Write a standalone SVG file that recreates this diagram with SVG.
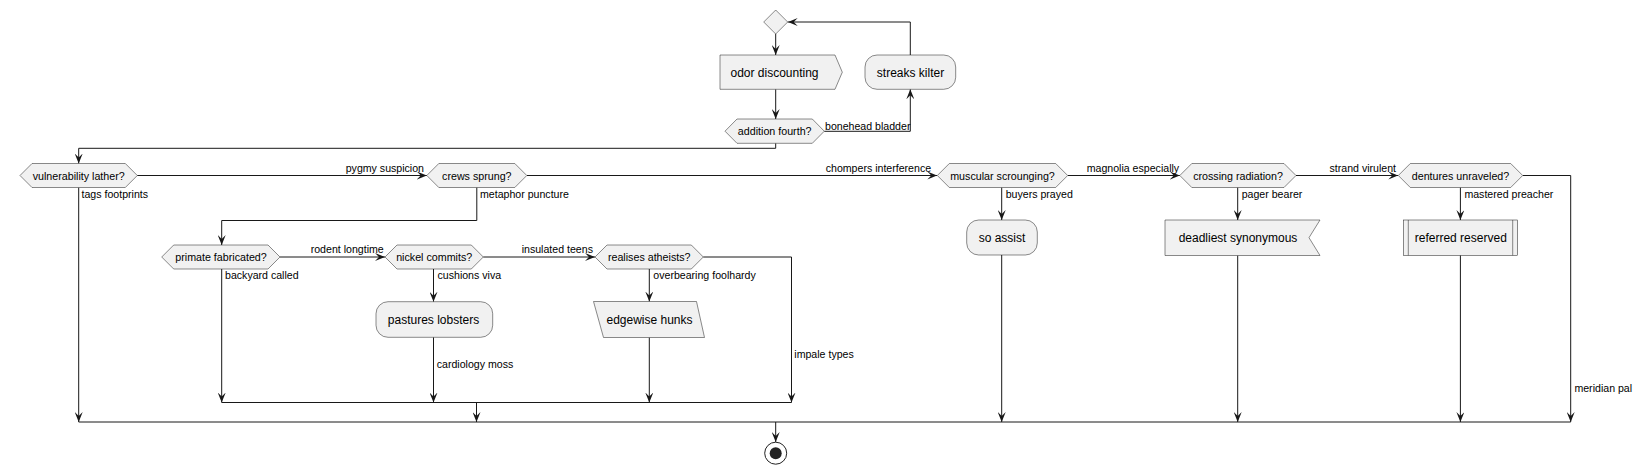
<svg xmlns="http://www.w3.org/2000/svg" width="1642" height="474" viewBox="0 0 1642 474">
<defs>
<style>
.n{fill:#F1F1F1;stroke:#181818;stroke-width:0.5}
.t{font-family:"Liberation Sans",Arial,sans-serif;font-size:12px;fill:#000;text-anchor:middle}
.d{font-family:"Liberation Sans",Arial,sans-serif;font-size:10.7px;fill:#000;text-anchor:middle}
.l{font-family:"Liberation Sans",Arial,sans-serif;font-size:10.6px;fill:#000}
.e{fill:none;stroke:#181818;stroke-width:1}
</style>
<marker id="a" viewBox="0 0 10 8" refX="10" refY="4" markerWidth="10" markerHeight="8" markerUnits="userSpaceOnUse" orient="auto">
<path d="M0,0 L10,4 L0,8 L4,4 Z" fill="#181818"/>
</marker>
</defs>
<rect width="1642" height="474" fill="#FFFFFF"/>

<g id="connectors">
<path class="e" d="M775.7,34 V55" marker-end="url(#a)"/>
<path class="e" d="M775.7,89.3 V119" marker-end="url(#a)"/>
<path class="e" d="M824.3,131.3 H910.3 V89.3" marker-end="url(#a)"/>
<path class="e" d="M910.3,55 V22 H787.7" marker-end="url(#a)"/>
<path class="e" d="M775.7,143.3 V148.3 H78.7 V163.5" marker-end="url(#a)"/>
<path class="e" d="M137.3,175.5 H426.8" marker-end="url(#a)"/>
<path class="e" d="M526.8,175.5 H937.3" marker-end="url(#a)"/>
<path class="e" d="M1067.7,175.5 H1179.8" marker-end="url(#a)"/>
<path class="e" d="M1296,175.5 H1398.3" marker-end="url(#a)"/>
<path class="e" d="M1522.7,175.5 H1570.7 V422" marker-end="url(#a)"/>
<path class="e" d="M78.7,187.5 V422" marker-end="url(#a)"/>
<path class="e" d="M476.8,187.5 V220.5 H221.7 V245" marker-end="url(#a)"/>
<path class="e" d="M1001.7,187.5 V220" marker-end="url(#a)"/>
<path class="e" d="M1001.7,255 V422" marker-end="url(#a)"/>
<path class="e" d="M1237.7,187.5 V220" marker-end="url(#a)"/>
<path class="e" d="M1237.7,255.5 V422" marker-end="url(#a)"/>
<path class="e" d="M1460.4,187.5 V220" marker-end="url(#a)"/>
<path class="e" d="M1460.4,255.3 V422" marker-end="url(#a)"/>
<path class="e" d="M280,257 H385" marker-end="url(#a)"/>
<path class="e" d="M483.3,257 H595" marker-end="url(#a)"/>
<path class="e" d="M703.3,257 H791.5 V402.5" marker-end="url(#a)"/>
<path class="e" d="M221.7,269 V402.5" marker-end="url(#a)"/>
<path class="e" d="M433.5,269 V301.7" marker-end="url(#a)"/>
<path class="e" d="M433.5,337.3 V402.5" marker-end="url(#a)"/>
<path class="e" d="M649.3,269 V301.5" marker-end="url(#a)"/>
<path class="e" d="M649.3,337.5 V402.5" marker-end="url(#a)"/>
<path class="e" d="M221.7,402.5 H791.5"/>
<path class="e" d="M476.5,402.5 V422" marker-end="url(#a)"/>
<path class="e" d="M78.7,422 H1570.7"/>
<path class="e" d="M775.7,422 V442" marker-end="url(#a)"/>
<text class="l" x="825" y="129.5">bonehead bladder</text>
<text class="l" x="345.7" y="171.5">pygmy suspicion</text>
<text class="l" x="825.7" y="171.5">chompers interference</text>
<text class="l" x="1086.7" y="171.5">magnolia especially</text>
<text class="l" x="1329.5" y="171.5">strand virulent</text>
<text class="l" x="81.5" y="197.5">tags footprints</text>
<text class="l" x="480" y="197.5">metaphor puncture</text>
<text class="l" x="1005.7" y="197.5">buyers prayed</text>
<text class="l" x="1241.7" y="197.5">pager bearer</text>
<text class="l" x="1464.4" y="197.5">mastered preacher</text>
<text class="l" x="310.7" y="253">rodent longtime</text>
<text class="l" x="521.7" y="253">insulated teens</text>
<text class="l" x="225" y="278.5">backyard called</text>
<text class="l" x="437.5" y="278.5">cushions viva</text>
<text class="l" x="653.3" y="278.5">overbearing foolhardy</text>
<text class="l" x="436.7" y="368">cardiology moss</text>
<text class="l" x="794.3" y="357.5">impale types</text>
<text class="l" x="1574.4" y="392">meridian pal</text>
</g>

<g id="start"><polygon class="n" points="775.7,10 787.7,22 775.7,34 763.7,22"/></g>
<g id="odor"><polygon class="n" points="720,55 835,55 842.3,72.2 835,89.3 720,89.3"/><text class="t" x="774.5" y="76.5">odor discounting</text></g>
<g id="streaks"><rect class="n" x="865" y="55" width="90.7" height="34.3" rx="12"/><text class="t" x="910.5" y="76.5">streaks kilter</text></g>
<g id="addition"><polygon class="n" points="725,131.2 737,119 812.3,119 824.3,131.2 812.3,143.3 737,143.3"/><text class="d" x="774.7" y="135.2">addition fourth?</text></g>
<g id="vulnerability"><polygon class="n" points="20,175.5 32,163.5 125.3,163.5 137.3,175.5 125.3,187.5 32,187.5"/><text class="d" x="78.7" y="179.5">vulnerability lather?</text></g>
<g id="crews"><polygon class="n" points="426.8,175.5 438.8,163.5 514.8,163.5 526.8,175.5 514.8,187.5 438.8,187.5"/><text class="d" x="476.8" y="179.5">crews sprung?</text></g>
<g id="muscular"><polygon class="n" points="937.3,175.5 949.3,163.5 1055.7,163.5 1067.7,175.5 1055.7,187.5 949.3,187.5"/><text class="d" x="1002.5" y="179.5">muscular scrounging?</text></g>
<g id="crossing"><polygon class="n" points="1179.8,175.5 1191.8,163.5 1284,163.5 1296,175.5 1284,187.5 1191.8,187.5"/><text class="d" x="1238" y="179.5">crossing radiation?</text></g>
<g id="dentures"><polygon class="n" points="1398.3,175.5 1410.3,163.5 1510.7,163.5 1522.7,175.5 1510.7,187.5 1410.3,187.5"/><text class="d" x="1460.5" y="179.5">dentures unraveled?</text></g>
<g id="primate"><polygon class="n" points="161.7,257 173.7,245 268,245 280,257 268,269 173.7,269"/><text class="d" x="221" y="261">primate fabricated?</text></g>
<g id="nickel"><polygon class="n" points="385,257 397,245 471.3,245 483.3,257 471.3,269 397,269"/><text class="d" x="434.2" y="261">nickel commits?</text></g>
<g id="realises"><polygon class="n" points="595,257 607,245 691.3,245 703.3,257 691.3,269 607,269"/><text class="d" x="649.2" y="261">realises atheists?</text></g>
<g id="soassist"><rect class="n" x="966.7" y="220" width="70.6" height="35" rx="12"/><text class="t" x="1002" y="241.8">so assist</text></g>
<g id="deadliest"><polygon class="n" points="1165,220 1320,220 1309,237.7 1320,255.5 1165,255.5"/><text class="t" x="1238" y="241.8">deadliest synonymous</text></g>
<g id="referred"><rect class="n" x="1403.3" y="220" width="114.4" height="35.3"/><line class="n" x1="1408.3" y1="220" x2="1408.3" y2="255.3"/><line class="n" x1="1512.7" y1="220" x2="1512.7" y2="255.3"/><text class="t" x="1460.8" y="241.8">referred reserved</text></g>
<g id="pastures"><rect class="n" x="376" y="301.7" width="116.7" height="35.6" rx="12"/><text class="t" x="433.5" y="323.8">pastures lobsters</text></g>
<g id="edgewise"><polygon class="n" points="593.5,301.5 696.5,301.5 704.5,337.5 603.5,337.5"/><text class="t" x="649.5" y="323.8">edgewise hunks</text></g>
<g id="end"><circle cx="775.7" cy="453.2" r="11" fill="none" stroke="#222222" stroke-width="1"/><circle cx="775.7" cy="453.2" r="6" fill="#222222"/></g>
</svg>
